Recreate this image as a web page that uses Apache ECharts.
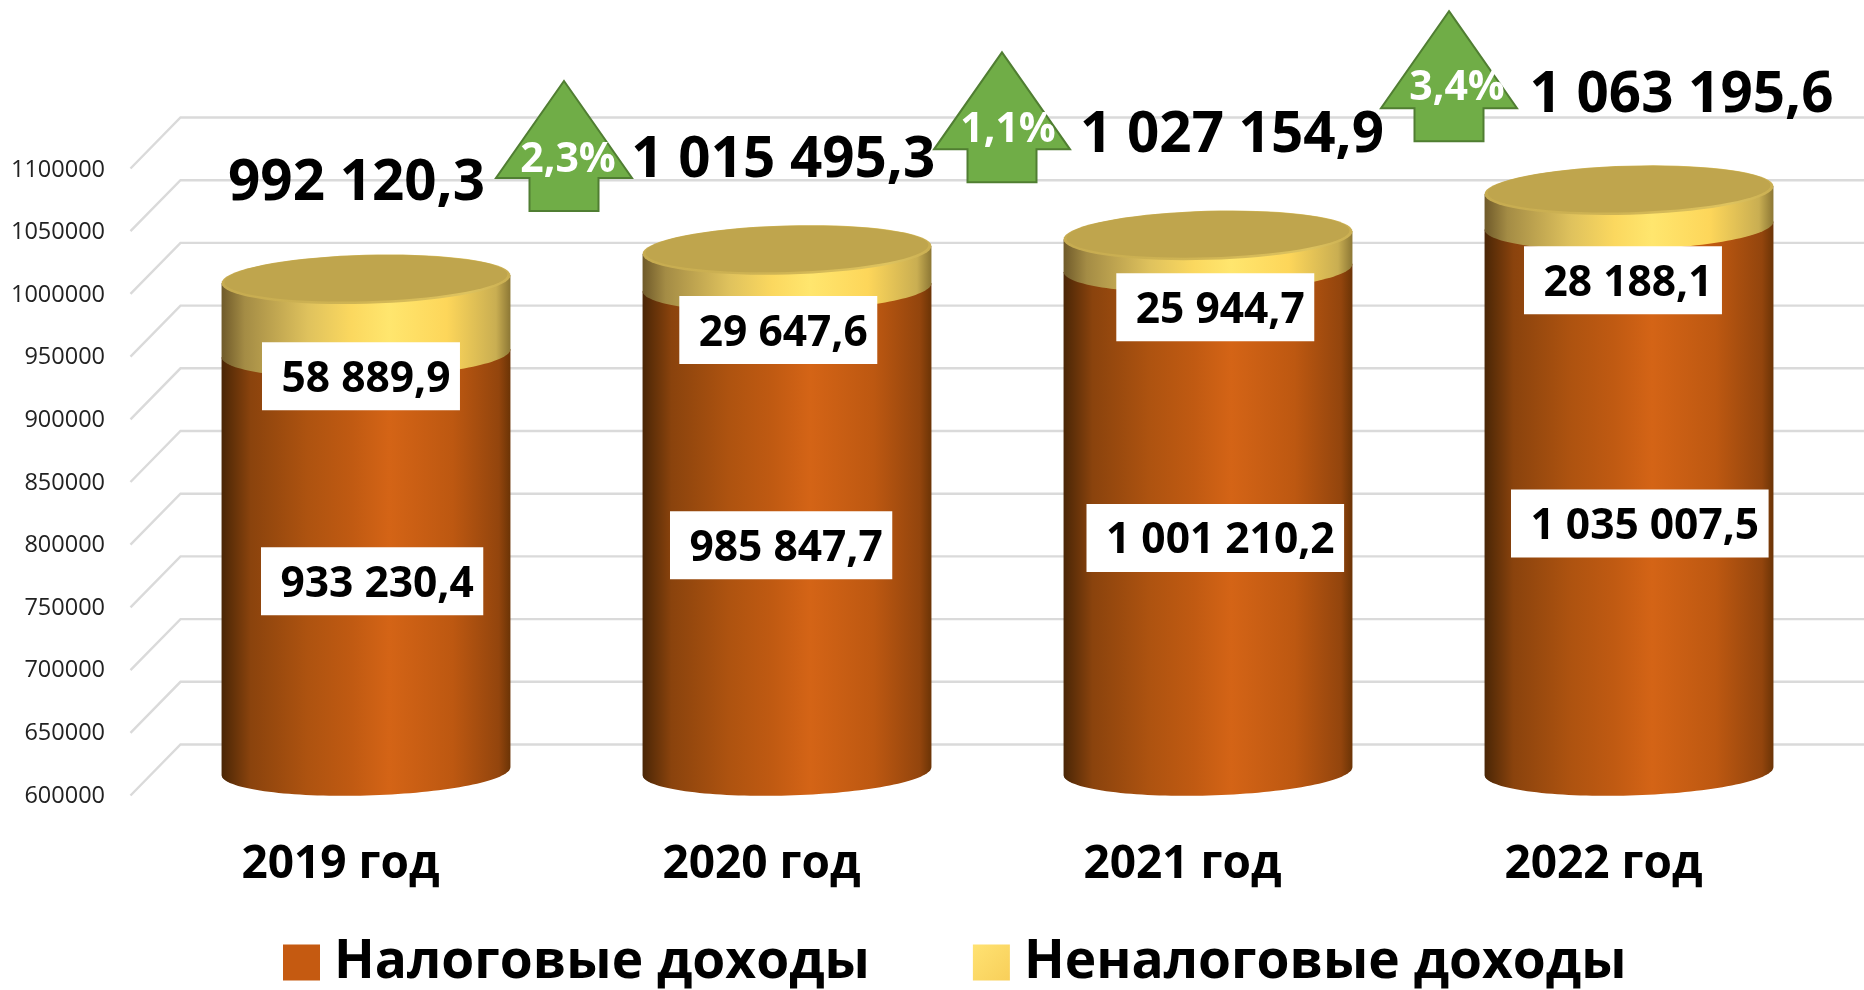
<!DOCTYPE html>
<html><head><meta charset="utf-8">
<style>html,body{margin:0;padding:0;background:#fff}#c{width:1864px;height:990px}</style>
<script src="https://cdn.jsdelivr.net/npm/echarts@6/dist/echarts.min.js"></script>
</head><body><div id="c"></div>
<script>
// ---- data ----
const categories = ['2019 год','2020 год','2021 год','2022 год'];
const taxIncome = [933230.4, 985847.7, 1001210.2, 1035007.5];
const nonTaxIncome = [58889.9, 29647.6, 25944.7, 28188.1];
const totals = [992120.3, 1015495.3, 1027154.9, 1063195.6];
const growth = [2.3, 1.1, 3.4];
const yTicks = [600000,650000,700000,750000,800000,850000,900000,950000,1000000,1050000,1100000];
const seriesNames = ['Налоговые доходы','Неналоговые доходы'];
// ---- annotation placement (px relative to the anchor on the scale) ----
const taxLabelShift = [[-105,228],[-117,258],[-121.5,270],[-118,298]];
const nonTaxLabelShift = [[-104,97],[-107.7,80],[-91.7,72],[-105,90]];
const totalShift = [[-9.5,-95],[-3.7,-89],[24,-99],[52.5,-94]];
const arrowShift = [[-223,-169],[-206,-183],[-180,-179]];
const growthTextShift = [[4,79],[6,78],[8,77]];

const FONT = '"Open Sans"';
const RX = 144.5, RY = 24.5, TILT = 1.6 * Math.PI / 180;
const G = echarts.graphic.LinearGradient;
const orange = () => new G(0,0,1,0,[
 {offset:0,color:'#4A2606'},{offset:.1,color:'#8A430D'},{offset:.3,color:'#AE5310'},{offset:.45,color:'#C05A12'},
 {offset:.58,color:'#D46416'},{offset:.8,color:'#BD5811'},{offset:.96,color:'#93450D'},{offset:1,color:'#6B3406'}]);
const yellow = () => new G(0,0,1,0,[
 {offset:0,color:'#6F5A2A'},{offset:.08,color:'#A48C45'},{offset:.3,color:'#DFC25D'},{offset:.45,color:'#FBD85F'},
 {offset:.58,color:'#FFE66E'},{offset:.78,color:'#FDD65A'},{offset:.95,color:'#C9AE52'},{offset:1,color:'#8C7735'}]);

function ellipsePt(cx, cy, t, rx, ry){
  const x = rx*Math.cos(t), y = ry*Math.sin(t);
  return [cx + x*Math.cos(TILT) + y*Math.sin(TILT), cy - x*Math.sin(TILT) + y*Math.cos(TILT)];
}
function arc(cx, cy, from, to, rx, ry){
  const pts=[], n=72;
  for(let i=0;i<=n;i++) pts.push(ellipsePt(cx,cy,from+(to-from)*i/n,rx,ry));
  return pts;
}
function fmt(v){
  const [a,b] = v.toFixed(1).split('.');
  return a.replace(/\B(?=(\d{3})+$)/g,' ') + ',' + b;
}
function cylinderPart(fillFn, drawCap){
  return function(params, api){
    const a = api.coord([api.value(0), api.value(1)]);
    const b = api.coord([api.value(0), api.value(2)]);
    const bottomArc = arc(a[0],a[1],0,Math.PI,RX,RY);
    const topChord = [ellipsePt(b[0],b[1],Math.PI,RX,RY), ellipsePt(b[0],b[1],0,RX,RY)];
    const children = [{type:'polygon',shape:{points:bottomArc.concat(topChord)},style:{fill:fillFn()}}];
    if(drawCap){
      children.push({type:'polygon',shape:{points:arc(b[0],b[1],0,Math.PI*2,RX,RY)},
        style:{fill:new G(0,0,1,0,[{offset:0,color:'#C6AB50'},{offset:.5,color:'#D0B555'},{offset:.85,color:'#DEC35F'},{offset:1,color:'#C9AE52'}])}});
      children.push({type:'polygon',shape:{points:arc(b[0],b[1]-1,0,Math.PI*2,RX-3,RY-1.5)},style:{fill:'#BFA54D'}});
    }
    return {type:'group',children};
  };
}
function totalOf(i){return taxIncome[i]+nonTaxIncome[i];}

const txt = (text,x,y,size,fill,extra) => ({type:'text',x,y,style:Object.assign({text,fill,fontFamily:FONT,fontSize:size,fontWeight:'bold',align:'center',verticalAlign:'middle'},extra||{})});

const measureCtx = document.createElement('canvas').getContext('2d');
function boxLabel(text, x, y){
  measureCtx.font = 'bold 42.5px "Open Sans"';
  const w = measureCtx.measureText(text).width;
  return [
    {type:'rect',shape:{x:x,y:y-34,width:w+29,height:68},style:{fill:'#fff'}},
    txt(text,x+19.5,y+3.5,42.5,'#000',{align:'left'})
  ];
}

const option = {
  animation:false,
  backgroundColor:'#fff',
  textStyle:{fontFamily:FONT},
  grid:[
    {left:130,top:170,width:1684,height:626},
    {left:155.5,top:144,width:1684,height:627}
  ],
  xAxis:[
    {type:'category',gridIndex:0,data:categories,axisLine:{show:false},axisTick:{show:false},
     axisLabel:{margin:46,color:'#000',fontFamily:FONT,fontWeight:'bold',fontSize:46,lineHeight:46}},
    {type:'category',gridIndex:1,data:categories,show:false}
  ],
  yAxis:[
    {type:'value',gridIndex:0,min:600000,max:1100000,interval:50000,splitLine:{show:false},axisLine:{show:false},axisTick:{show:false},
     axisLabel:{margin:25,color:'#222',fontFamily:FONT,fontSize:23.5,padding:[3,0,0,0],formatter:v=>String(v)}},
    {type:'value',gridIndex:1,min:600000,max:1100000,interval:50000,show:false,splitLine:{show:false}}
  ],
  legend:{left:283,top:936,padding:0,itemWidth:37,itemHeight:36,itemGap:103,icon:'rect',selectedMode:false,data:seriesNames,
    textStyle:{color:'#000',fontFamily:FONT,fontWeight:'bold',fontSize:53.3,padding:[14,0,0,9]}},
  series:[
    {type:'custom',name:'grid',xAxisIndex:1,yAxisIndex:1,silent:true,z:1,data:yTicks.map(v=>[0,v]),
     renderItem(params,api){
       const cs = params.coordSys, y = api.coord([0,api.value(1)])[1], x0 = cs.x-25;
       return {type:'polyline',shape:{points:[[x0,y+24.5],[cs.x+25,y-26.5],[cs.x+cs.width+25,y-26.5]]},
         style:{stroke:'#DADADA',lineWidth:2.4,fill:null}};
     }},
    {type:'custom',name:seriesNames[0],xAxisIndex:1,yAxisIndex:1,z:2,itemStyle:{color:'#C55A11'},
     data:taxIncome.map((v,i)=>[i,600000,v]),renderItem:cylinderPart(orange,false)},
    {type:'custom',name:seriesNames[1],xAxisIndex:1,yAxisIndex:1,z:3,
     itemStyle:{color:new G(0,0,1,1,[{offset:0,color:'#FFE272'},{offset:1,color:'#F8CF5A'}])},
     data:nonTaxIncome.map((v,i)=>[i,taxIncome[i],totalOf(i)]),renderItem:cylinderPart(yellow,true)},
    {type:'custom',name:'labels',xAxisIndex:1,yAxisIndex:1,z:5,silent:true,
     data:categories.map((c,i)=>[i,taxIncome[i],totals[i]]),
     renderItem(params,api){
       const i = api.value(0);
       const pT = api.coord([i,api.value(1)]), pS = api.coord([i,api.value(2)]);
       const d1 = taxLabelShift[i], d2 = nonTaxLabelShift[i], d3 = totalShift[i];
       return {type:'group',children:[
         ...boxLabel(fmt(taxIncome[i]),pT[0]+d1[0],pT[1]+d1[1]),
         ...boxLabel(fmt(nonTaxIncome[i]),pS[0]+d2[0],pS[1]+d2[1]),
         txt(fmt(totals[i]),pS[0]+d3[0],pS[1]+d3[1],56.5,'#000')
       ]};
     }},
    {type:'custom',name:'growth',xAxisIndex:1,yAxisIndex:1,z:6,silent:true,
     data:growth.map((g,i)=>[i+1,totals[i+1],g]),
     renderItem(params,api){
       const i = api.value(0)-1, p = api.coord([i+1,api.value(1)]);
       const d = arrowShift[i], tx = p[0]+d[0], ty = p[1]+d[1], t = growthTextShift[i];
       const W=68, S=34.5, H=97, L=130;
       const pts=[[tx,ty],[tx+W,ty+H],[tx+S,ty+H],[tx+S,ty+L],[tx-S,ty+L],[tx-S,ty+H],[tx-W,ty+H]];
       return {type:'group',children:[
         {type:'polygon',shape:{points:pts},style:{fill:'#70AD47',stroke:'#507E32',lineWidth:2}},
         txt(api.value(2).toFixed(1).replace('.',',')+'%',tx+t[0],ty+t[1],41,'#fff')
       ]};
     }}
  ]
};
echarts.init(document.getElementById('c')).setOption(option);
</script></body></html>
